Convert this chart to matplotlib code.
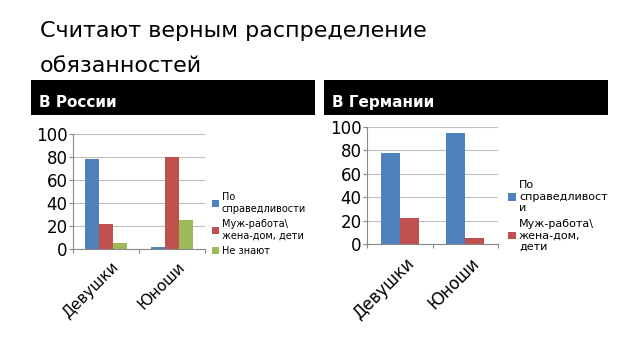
import matplotlib.pyplot as plt
from matplotlib.patches import Rectangle

categories = ["Девушки", "Юноши"]

ru_fair = [78, 2]
ru_trad = [22, 80]
ru_dunno = [5, 25]

de_fair = [78, 95]
de_trad = [22, 5]

blue = "#4f81bd"
red = "#c0504d"
green = "#9bbb59"

fig = plt.figure(figsize=(6.4, 3.6), dpi=100)

def px(x, y, w, h):
	# pixel box (top-left origin) -> figure fraction
	return [x / 640, 1 - (y + h) / 360, w / 640, h / 360]

fig.text(40 / 640, 1 - 37 / 360, "Считают верным распределение",
	fontsize=16, va="baseline", ha="left", color="black")
fig.text(40 / 640, 1 - 72 / 360, "обязанностей",
	fontsize=16, va="baseline", ha="left", color="black")

for x0, label in [(31, "В России"), (324, "В Германии")]:
	fig.patches.append(Rectangle((x0 / 640, 1 - 115 / 360), 284 / 640, 35 / 360,
		transform=fig.transFigure, facecolor="black", edgecolor="none"))
	fig.text((x0 + 8) / 640, 1 - 107 / 360, label, color="white",
		fontsize=11, fontweight="bold", va="baseline", ha="left")

def style(ax, labsize):
	ax.set_ylim(0, 100)
	ax.set_xlim(-0.5, 1.5)
	ax.set_yticks(range(0, 101, 20))
	ax.yaxis.grid(True, color="#bfbfbf", linewidth=0.8)
	ax.set_axisbelow(True)
	for s in ["top", "right"]:
		ax.spines[s].set_visible(False)
	ax.spines["left"].set_color("#888888")
	ax.spines["bottom"].set_color("#888888")
	ax.tick_params(axis="y", labelsize=12, length=3, color="#888888", pad=1)
	ax.set_xticks([-0.5, 0.5, 1.5])
	ax.set_xticklabels(["", "", ""])
	ax.tick_params(axis="x", length=3, color="#888888")
	for i, c in enumerate(categories):
		ax.text(i + 0.08, -9, c, rotation=45, ha="right", va="top",
			fontsize=labsize, rotation_mode="anchor")

# Россия
ax1 = fig.add_axes(px(73, 134, 132, 115))
w = 0.21
xs = range(len(categories))
ax1.bar([x - w for x in xs], ru_fair, w, color=blue, label="По\nсправедливости")
ax1.bar([x for x in xs], ru_trad, w, color=red, label="Муж-работа\\\nжена-дом, дети")
ax1.bar([x + w for x in xs], ru_dunno, w, color=green, label="Не знают")
style(ax1, 11)
ax1.legend(loc="upper left", bbox_to_anchor=(212 / 640, 1 - 192 / 360),
	bbox_transform=fig.transFigure, frameon=False, fontsize=7,
	handlelength=0.7, handleheight=0.7, handletextpad=0.3,
	labelspacing=0.55, borderaxespad=0, borderpad=0)

# Германия
ax2 = fig.add_axes(px(367, 127, 131, 117))
w2 = 0.29
ax2.bar([x - w2 / 2 for x in xs], de_fair, w2, color=blue, label="По\nсправедливост\nи")
ax2.bar([x + w2 / 2 for x in xs], de_trad, w2, color=red, label="Муж-работа\\\nжена-дом,\nдети")
style(ax2, 12)
ax2.legend(loc="upper left", bbox_to_anchor=(508 / 640, 1 - 180 / 360),
	bbox_transform=fig.transFigure, frameon=False, fontsize=8,
	handlelength=0.7, handleheight=0.7, handletextpad=0.3,
	labelspacing=0.5, borderaxespad=0, borderpad=0)

fig.savefig("out.png", dpi=100)
